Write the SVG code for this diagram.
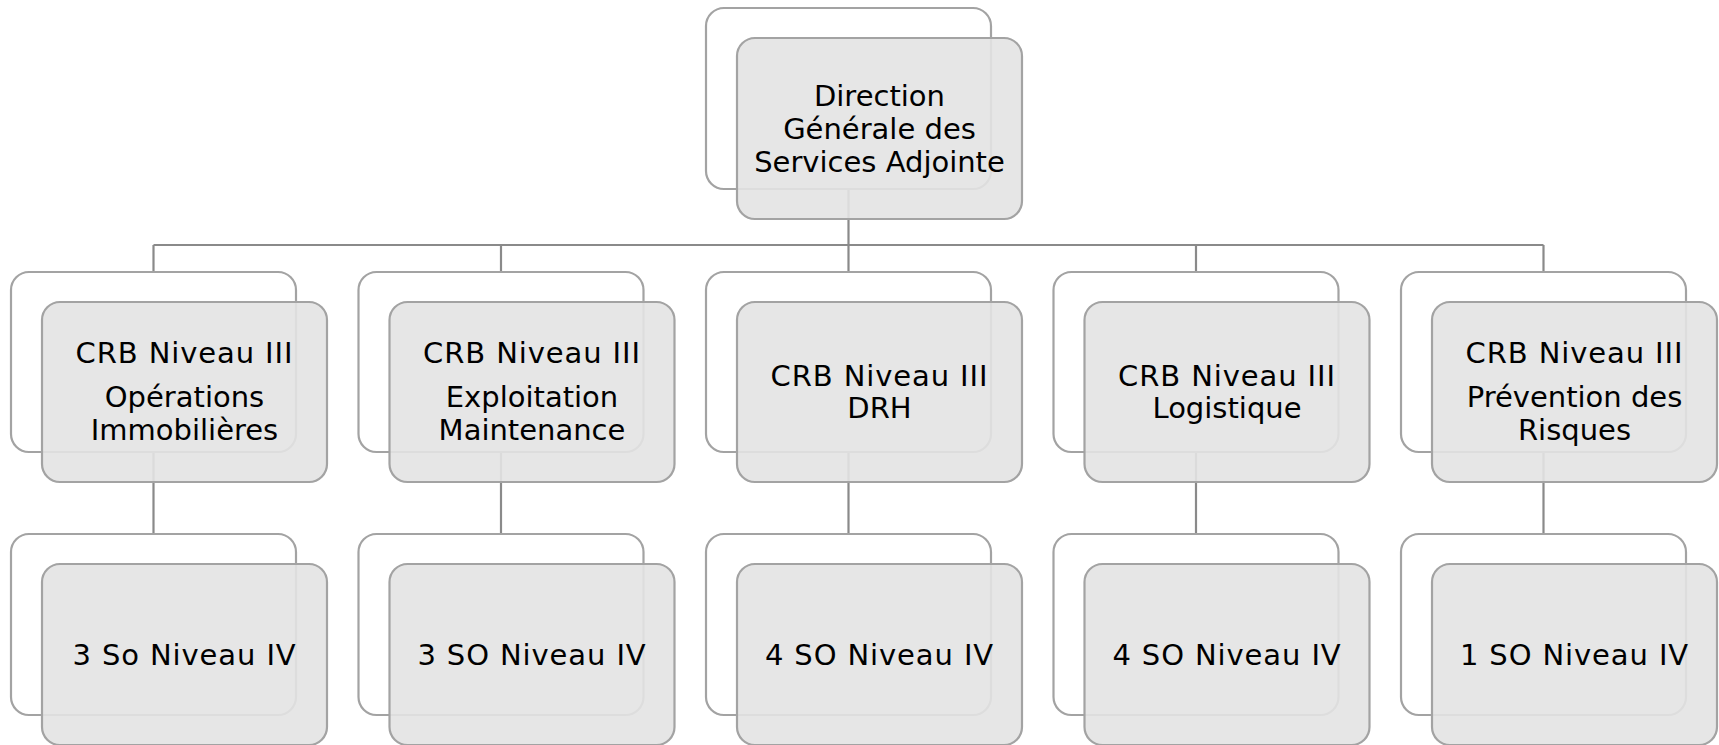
<svg xmlns="http://www.w3.org/2000/svg" width="1719" height="745" viewBox="0 0 1719 745">
<style>
.back{fill:#ffffff;stroke:#a3a3a3;stroke-width:2.2}
.front{fill:#e3e3e3;fill-opacity:0.9;stroke:#a3a3a3;stroke-width:2.2}
.conn{stroke:#8a8a8a;stroke-width:2.2;fill:none}
text{font-family:"DejaVu Sans","Verdana",sans-serif;font-size:29px;fill:#000;text-anchor:middle}
.ls{letter-spacing:0.9px}
</style>
<rect width="1719" height="745" fill="#ffffff"/>
<g id="connectors">
<path class="conn" d="M848.5,189 V245 M153.5,245 H1543.5"/>
<path class="conn" d="M153.5,245 V272 M501,245 V272 M848.5,245 V272 M1196,245 V272 M1543.5,245 V272"/>
<path class="conn" d="M153.5,452 V534 M501,452 V534 M848.5,452 V534 M1196,452 V534 M1543.5,452 V534"/>
</g>
<g id="n0">
<rect class="back" x="706" y="8" width="285" height="181" rx="18"/>
<rect class="front" x="737" y="38" width="285" height="181" rx="18"/>
<text x="879.5" y="106">Direction</text>
<text x="879.5" y="139">Générale des</text>
<text x="879.5" y="172">Services Adjointe</text>
</g>
<g id="n1">
<rect class="back" x="11" y="272" width="285" height="180" rx="18"/>
<rect class="front" x="42" y="302" width="285" height="180" rx="18"/>
<text class="ls" x="184.5" y="363">CRB Niveau III</text>
<text x="184.5" y="407">Opérations</text>
<text x="184.5" y="440">Immobilières</text>
</g>
<g id="n2">
<rect class="back" x="358.5" y="272" width="285" height="180" rx="18"/>
<rect class="front" x="389.5" y="302" width="285" height="180" rx="18"/>
<text class="ls" x="532" y="363">CRB Niveau III</text>
<text x="532" y="407">Exploitation</text>
<text x="532" y="440">Maintenance</text>
</g>
<g id="n3">
<rect class="back" x="706" y="272" width="285" height="180" rx="18"/>
<rect class="front" x="737" y="302" width="285" height="180" rx="18"/>
<text class="ls" x="879.5" y="386">CRB Niveau III</text>
<text x="879.5" y="418">DRH</text>
</g>
<g id="n4">
<rect class="back" x="1053.5" y="272" width="285" height="180" rx="18"/>
<rect class="front" x="1084.5" y="302" width="285" height="180" rx="18"/>
<text class="ls" x="1227" y="386">CRB Niveau III</text>
<text x="1227" y="418">Logistique</text>
</g>
<g id="n5">
<rect class="back" x="1401" y="272" width="285" height="180" rx="18"/>
<rect class="front" x="1432" y="302" width="285" height="180" rx="18"/>
<text class="ls" x="1574.5" y="363">CRB Niveau III</text>
<text x="1574.5" y="407">Prévention des</text>
<text x="1574.5" y="440">Risques</text>
</g>
<g id="n6">
<rect class="back" x="11" y="534" width="285" height="181" rx="18"/>
<rect class="front" x="42" y="564" width="285" height="181" rx="18"/>
<text class="ls" x="184.5" y="665">3 So Niveau IV</text>
</g>
<g id="n7">
<rect class="back" x="358.5" y="534" width="285" height="181" rx="18"/>
<rect class="front" x="389.5" y="564" width="285" height="181" rx="18"/>
<text class="ls" x="532" y="665">3 SO Niveau IV</text>
</g>
<g id="n8">
<rect class="back" x="706" y="534" width="285" height="181" rx="18"/>
<rect class="front" x="737" y="564" width="285" height="181" rx="18"/>
<text class="ls" x="879.5" y="665">4 SO Niveau IV</text>
</g>
<g id="n9">
<rect class="back" x="1053.5" y="534" width="285" height="181" rx="18"/>
<rect class="front" x="1084.5" y="564" width="285" height="181" rx="18"/>
<text class="ls" x="1227" y="665">4 SO Niveau IV</text>
</g>
<g id="n10">
<rect class="back" x="1401" y="534" width="285" height="181" rx="18"/>
<rect class="front" x="1432" y="564" width="285" height="181" rx="18"/>
<text class="ls" x="1574.5" y="665">1 SO Niveau IV</text>
</g>
</svg>
